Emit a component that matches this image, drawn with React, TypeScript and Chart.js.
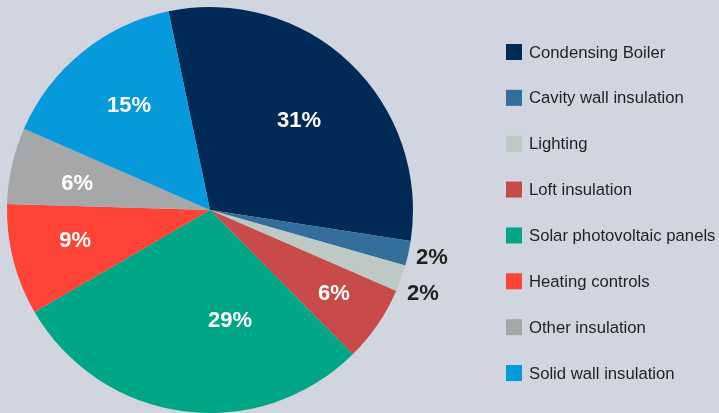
import React, { useEffect, useRef } from "react";
import { Chart, registerables } from "chart.js";

Chart.register(...registerables);

const categories = [
  "Condensing Boiler",
  "Cavity wall insulation",
  "Lighting",
  "Loft insulation",
  "Solar photovoltaic panels",
  "Heating controls",
  "Other insulation",
  "Solid wall insulation",
];
const shares = [30.72, 1.97, 2.11, 6.06, 29.03, 8.86, 6.08, 15.17];
const shownLabels = ["31%", "2%", "2%", "6%", "29%", "9%", "6%", "15%"];
const sliceColors = [
  "#022a56",
  "#346f9b",
  "#bec8c4",
  "#c84b49",
  "#00a685",
  "#fd4436",
  "#a6a7a9",
  "#0699db",
];
// label placement: [angle nudge in degrees, radial factor]
const labelNudge = [1.2, -0.35, 1.6, -0.6, -17.8, 1.75, -1.15, 1.5];
const labelRadius = [0.624, 1.118, 1.126, 0.734, 0.552, 0.68, 0.668, 0.653];

const BG = "#d0d5e0";
const TEXT = "#231f20";

const sliceLabelPlugin = {
  id: "sliceLabels",
  afterDatasetsDraw(chart: any) {
    const meta = chart.getDatasetMeta(0);
    const ctx = chart.ctx;
    ctx.save();
    ctx.font = "bold 22px 'Liberation Sans', Arial, sans-serif";
    ctx.textAlign = "center";
    ctx.textBaseline = "middle";
    meta.data.forEach((arc: any, i: number) => {
      const p = arc.getProps(["x", "y", "startAngle", "endAngle", "outerRadius"], true);
      const mid = (p.startAngle + p.endAngle) / 2 + (labelNudge[i] * Math.PI) / 180;
      const r = p.outerRadius * labelRadius[i];
      const x = p.x + Math.cos(mid) * r;
      const y = p.y + Math.sin(mid) * r;
      ctx.fillStyle = labelRadius[i] > 1 ? TEXT : "#ffffff";
      ctx.fillText(shownLabels[i], x, y + 1);
    });
    ctx.restore();
  },
};

const sideLegendPlugin = {
  id: "sideLegend",
  afterDraw(chart: any) {
    const ctx = chart.ctx;
    const opts = chart.options.plugins.sideLegend;
    const labels = chart.data.labels as string[];
    const colors = chart.data.datasets[0].backgroundColor as string[];
    ctx.save();
    ctx.font = `${opts.fontSize}px 'Liberation Sans', Arial, sans-serif`;
    ctx.textAlign = "left";
    ctx.textBaseline = "middle";
    labels.forEach((lab, i) => {
      const cy = opts.y + i * opts.spacing;
      ctx.fillStyle = colors[i];
      ctx.fillRect(opts.x, cy - opts.box / 2, opts.box, opts.box);
      ctx.fillStyle = TEXT;
      ctx.fillText(lab, opts.x + opts.box + opts.gap, cy + 1);
    });
    ctx.restore();
  },
};

export default function App() {
  const ref = useRef<HTMLCanvasElement | null>(null);

  useEffect(() => {
    if (!ref.current) return;
    const chart = new Chart(ref.current, {
      type: "pie",
      data: {
        labels: categories,
        datasets: [
          {
            data: shares,
            backgroundColor: sliceColors,
            borderWidth: 0,
            hoverBorderWidth: 0,
            hoverOffset: 0,
          },
        ],
      },
      options: {
        responsive: false,
        animation: false,
        devicePixelRatio: 1,
        rotation: -11.8,
        layout: { padding: { left: 7, top: 7, right: 306, bottom: 0 } },
        plugins: {
          legend: { display: false },
          tooltip: { enabled: false },
          sideLegend: { x: 506, y: 52, spacing: 45.86, box: 16, gap: 7, fontSize: 16.7 },
        } as any,
      },
      plugins: [sliceLabelPlugin, sideLegendPlugin],
    });
    return () => chart.destroy();
  }, []);

  return (
    <div
      style={{
        position: "fixed",
        left: 0,
        top: 0,
        width: 719,
        height: 413,
        background: BG,
      }}
    >
      <canvas ref={ref} width={719} height={413} style={{ display: "block" }} />
    </div>
  );
}
